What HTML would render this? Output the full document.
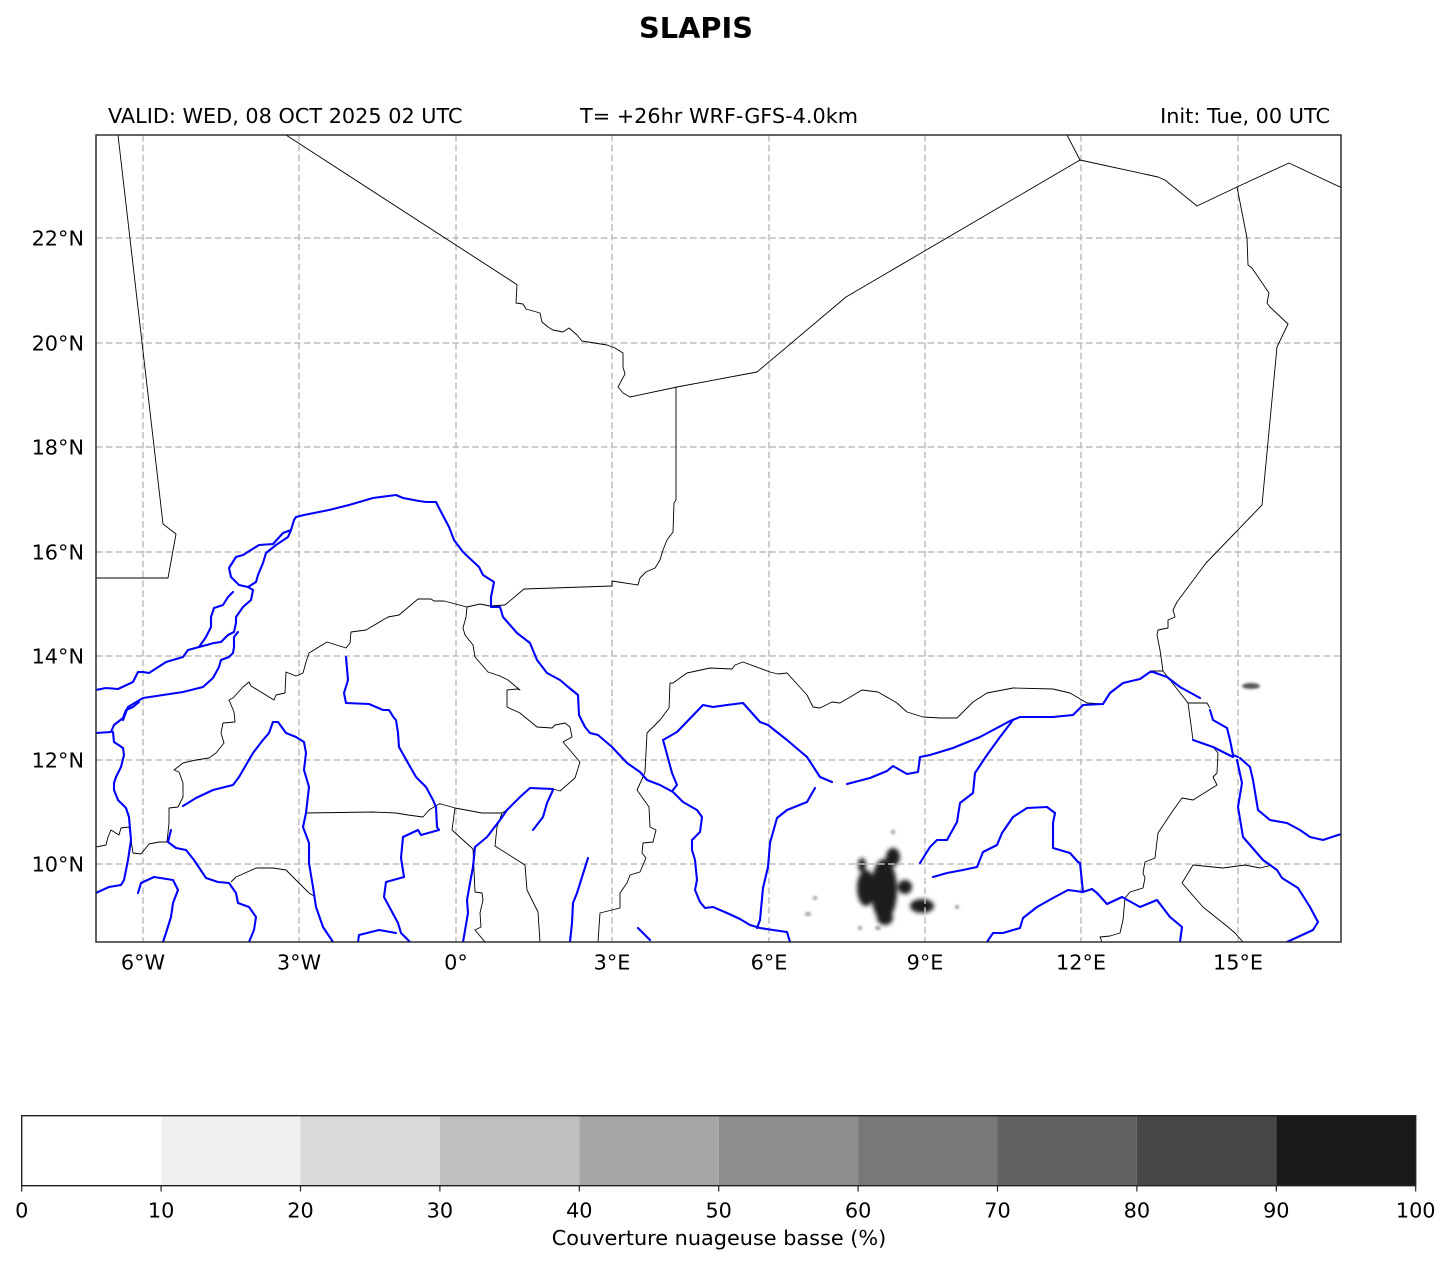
<!DOCTYPE html>
<html>
<head>
<meta charset="utf-8">
<style>
html,body{margin:0;padding:0;background:#fff;}
svg{display:block;}
text{font-family:"DejaVu Sans","Liberation Sans",sans-serif;fill:#000;}
</style>
</head>
<body>
<svg width="1451" height="1264" viewBox="0 0 1451 1264" xmlns="http://www.w3.org/2000/svg">
<defs>
<clipPath id="mapclip"><rect x="96" y="135" width="1245" height="807"/></clipPath>
<filter id="blur" x="-50%" y="-50%" width="200%" height="200%"><feGaussianBlur stdDeviation="2.2"/></filter>
<filter id="blur2" x="-50%" y="-50%" width="200%" height="200%"><feGaussianBlur stdDeviation="1.2"/></filter>
</defs>
<rect width="1451" height="1264" fill="#fff"/>

<!-- Title -->
<text x="696" y="38" font-size="28.8" font-weight="bold" text-anchor="middle">SLAPIS</text>
<text x="108" y="123" font-size="20.8">VALID: WED, 08 OCT 2025 02 UTC</text>
<text x="719" y="123" font-size="20.8" text-anchor="middle">T= +26hr WRF-GFS-4.0km</text>
<text x="1330" y="123" font-size="20.8" text-anchor="end">Init: Tue, 00 UTC</text>

<g clip-path="url(#mapclip)">
<!-- cloud blobs -->
<g filter="url(#blur)" fill="#1a1a1a">
<ellipse cx="884" cy="890" rx="13" ry="31"/>
<ellipse cx="866" cy="888" rx="9" ry="18"/>
<ellipse cx="893" cy="857" rx="7" ry="9"/>
<ellipse cx="905" cy="887" rx="7" ry="7"/>
<ellipse cx="922" cy="906" rx="12" ry="7"/>
<ellipse cx="885" cy="918" rx="8" ry="7"/>
<ellipse cx="862" cy="865" rx="4" ry="7"/>
</g>
<g filter="url(#blur2)" fill="#555">
<ellipse cx="1251" cy="686" rx="9" ry="3"/>
</g>
<g filter="url(#blur2)" fill="#999">
<ellipse cx="808" cy="914" rx="3" ry="2"/>
<ellipse cx="815" cy="898" rx="2" ry="2"/>
<ellipse cx="957" cy="907" rx="2" ry="2"/>
<ellipse cx="893" cy="832" rx="2" ry="2"/>
<ellipse cx="860" cy="928" rx="2" ry="2"/>
<ellipse cx="878" cy="928" rx="3" ry="2"/>
</g>

<!-- gridlines -->
<g stroke="#bdbdbd" stroke-width="1.5" stroke-dasharray="6.6,3.3" fill="none">
<line x1="143" y1="135" x2="143" y2="942"/>
<line x1="299" y1="135" x2="299" y2="942"/>
<line x1="456" y1="135" x2="456" y2="942"/>
<line x1="612" y1="135" x2="612" y2="942"/>
<line x1="769" y1="135" x2="769" y2="942"/>
<line x1="925" y1="135" x2="925" y2="942"/>
<line x1="1081" y1="135" x2="1081" y2="942"/>
<line x1="1238" y1="135" x2="1238" y2="942"/>
<line x1="96" y1="238" x2="1341" y2="238"/>
<line x1="96" y1="343" x2="1341" y2="343"/>
<line x1="96" y1="447" x2="1341" y2="447"/>
<line x1="96" y1="552" x2="1341" y2="552"/>
<line x1="96" y1="656" x2="1341" y2="656"/>
<line x1="96" y1="760" x2="1341" y2="760"/>
<line x1="96" y1="864" x2="1341" y2="864"/>
</g>

<!-- borders -->
<g stroke="#000" stroke-width="0.9" fill="none" stroke-linejoin="round">
<polyline points="118,135 163,524 176,534 168,578 96,578"/>
<polyline points="286,135 516,284 517,285 516,303 523,304 526,309 540,313 542,322 548,327 553,330 558,331 563,332 569,328 577,335 582,341 607,345 615,348 623,353 623,367 625,374 618,387 623,393 630,397 677,387 757,372 846,297 1080,160 1158,177 1165,180 1197,206 1237,187 1289,163 1342,188"/>
<polyline points="1080,160 1067,135"/>
<polyline points="676,387 676,500 674,503 673,532 667,540 663,550 660,560 655,568 646,572 640,578 638,585 612,581 612,586 524,589 505,605"/>
<polyline points="505,605 490,606 480,604 467,607 444,601 434,601 431,599 418,599 399,615 388,617 366,630 351,632 350,643 346,648 327,642 309,653 306,662 303,673 296,676 286,672 285,693 276,695 274,700 251,686 249,682 243,687 233,698 229,700 234,712 235,722 223,723 221,733 224,743 216,753 209,758 196,760 183,763 174,770 179,772 183,783 183,797 178,807 169,808 169,823 167,842 159,842 149,844 141,854 133,853 129,827 121,828 119,835 111,830 108,837 106,845 96,847"/>
<polyline points="467,607 466,617 463,628 465,635 473,645 475,657 488,672 500,676 508,680 520,690 517,689 507,690 507,707 520,713 537,727 552,728 555,725 565,723 570,727 572,737 563,742 580,762 575,778 560,791 553,789 530,788 520,797 507,810 502,813"/>
<polyline points="441,804 455,808 482,813 502,813"/>
<polyline points="455,808 452,830 463,840 473,849 475,892 482,893 483,900 480,913 481,927 475,930 485,942"/>
<polyline points="502,813 497,827 495,846 525,865 527,890 538,912 540,942"/>
<polyline points="306,813 373,812 396,813 408,815 423,817 429,810 434,807 439,804 441,804"/>
<polyline points="231,882 236,877 256,868 273,868 286,870 289,873 296,880 303,887 309,893 314,896"/>
<polyline points="670,683 673,683 687,673 710,668 732,669 735,665 743,662 770,672 778,674 787,673 807,695 813,707 820,708 832,702 840,703 862,690 878,692 897,703 907,712 923,717 940,718 957,718 973,702 987,693 1013,688 1053,689 1070,693 1087,703 1103,704 1110,693 1123,683 1140,679 1150,672"/>
<polyline points="670,683 669,708 660,720 647,733 645,772 643,777 637,790 649,807 650,827 656,830 653,842 643,843 642,853 646,858 640,872 630,875 627,883 620,893 620,908 600,913 598,942"/>
<polyline points="1237,187 1247,238 1248,265 1252,268 1269,293 1267,303 1270,307 1288,324 1277,347 1262,505 1206,563 1177,602 1173,610 1175,617 1168,620 1168,628 1158,630 1157,635 1160,650 1163,671 1150,671"/>
<polyline points="1163,671 1188,703 1207,703 1210,708"/>
<polyline points="1188,703 1193,740 1213,747 1218,753 1217,773 1213,777 1217,785 1193,800 1182,798 1172,812 1158,833 1155,858 1145,862 1143,873 1145,878 1143,888 1130,892 1125,898 1123,920 1120,933 1110,936 1100,937 1102,942"/>
<polyline points="1272,865 1260,868 1245,865 1223,868 1193,865 1182,883 1203,907 1228,927 1235,933 1243,942"/>
</g>

<!-- rivers -->
<g stroke="#0000ff" stroke-width="2.1" fill="none" stroke-linejoin="round" stroke-linecap="round">
<polyline points="96,690 106,688 118,689 133,682 138,672 143,672 149,673 166,662 183,657 188,650 214,643 221,642 228,635 234,632 236,623 236,617 243,607 251,600 253,590 248,587 256,582 258,575 263,563 266,553 276,545 288,537 291,530 294,520 296,517 304,515 329,510 349,505 373,498 396,495 403,498 419,501 426,502 436,502 439,508 449,527 454,540 463,552 479,567 483,575 494,582 491,597 491,607 500,607 503,617 517,633 530,643 537,660 547,673 560,680 567,686 578,695 579,715 585,727 590,733 598,735 612,747 627,763 640,772 647,780 660,785 673,792 683,802 697,810 702,817 700,832 692,840 692,850 695,860 697,880 695,890 700,902 705,908 713,907 727,913 740,919 750,925 760,928 773,930 787,932 790,942"/>
<polyline points="248,587 239,585 231,577 229,568 236,557 243,555 259,545 273,544 283,533 291,530"/>
<polyline points="123,720 128,707 143,698 163,695 183,692 203,687 213,678 219,667 221,660 229,657 233,653 234,647 234,637 238,632"/>
<polyline points="199,647 206,637 211,627 211,617 214,608 223,605 228,597 233,592"/>
<polyline points="96,733 111,732 114,725 123,718 126,710 133,707 139,702"/>
<polyline points="113,732 114,742 123,748 124,755 121,767 116,777 114,783 114,790 118,800 126,808 129,817 131,840 128,860 124,880 121,885 109,887 98,892 96,893"/>
<polyline points="138,893 141,883 154,877 173,880 178,890 173,903 171,917 166,933 163,942"/>
<polyline points="183,806 196,798 213,790 233,785 239,777 253,753 263,740 269,733 273,722 278,722 286,733 296,737 304,742 306,753 304,770 309,787 306,813 303,827 309,843 309,863 313,887 316,907 323,927 333,942"/>
<polyline points="171,830 168,842 176,848 186,850 194,860 206,878 218,882 229,883 236,893 238,903 249,907 256,917 254,930 249,942"/>
<polyline points="346,657 348,680 344,693 346,703 369,704 383,710 389,710 394,718 396,720 398,733 399,747 408,763 416,777 426,787 433,800 436,807 437,827 439,830 421,835 418,830 403,837 401,858 404,877 386,882 384,897 391,910 398,923 401,933 411,943"/>
<polyline points="358,942 359,935 379,930 396,933"/>
<polyline points="553,789 530,788 520,797 507,810 500,820 487,837 475,847 473,867 470,883 467,900 468,913 463,942"/>
<polyline points="553,790 547,803 543,817 533,830"/>
<polyline points="588,858 577,893 573,903 572,923 570,942"/>
<polyline points="638,928 650,940"/>
<polyline points="673,790 677,785 672,773 665,747 663,740 677,732 703,705 713,707 727,705 743,703 760,722 768,725 787,740 807,757 820,777 832,782"/>
<polyline points="815,788 807,802 787,810 777,818 770,843 768,867 763,888 760,920 757,928"/>
<polyline points="847,784 870,778 887,771 893,766 907,774 918,772 920,757 930,755 953,748 980,737 1010,721 1020,717 1053,717 1073,715 1083,705 1103,704 1110,693 1123,683 1140,679 1150,672 1153,672 1167,677 1180,687 1200,698"/>
<polyline points="920,863 930,847 937,840 947,840 957,822 960,803 973,793 975,773 987,755 1000,737 1013,720"/>
<polyline points="933,877 947,873 963,870 977,867 983,852 997,845 1002,833 1013,817 1027,808 1047,807 1055,813 1053,823 1053,848 1070,853 1078,862 1080,863 1083,892"/>
<polyline points="987,942 993,933 1003,933 1020,928 1023,918 1037,907 1053,898 1068,890 1083,892 1092,889 1097,893 1107,904 1122,897 1140,907 1157,900 1170,917 1182,927 1180,942"/>
<polyline points="1210,710 1213,720 1227,728 1230,740 1233,755 1238,757"/>
<polyline points="1193,740 1213,747 1233,757"/>
<polyline points="1237,760 1242,783 1238,807 1243,837 1263,860 1277,870 1282,878 1298,888 1310,907 1318,922 1313,930 1287,942"/>
<polyline points="1240,758 1250,767 1253,780 1258,810 1270,820 1287,823 1300,830 1310,837 1323,840 1338,835 1342,834"/>
</g>
</g>

<!-- map frame -->
<rect x="96" y="135" width="1245" height="807" fill="none" stroke="#222" stroke-width="1.4"/>

<!-- lat labels -->
<g font-size="20.8" text-anchor="end">
<text x="84" y="245.5">22°N</text>
<text x="84" y="350.5">20°N</text>
<text x="84" y="454.5">18°N</text>
<text x="84" y="559.5">16°N</text>
<text x="84" y="663.5">14°N</text>
<text x="84" y="767.5">12°N</text>
<text x="84" y="871.5">10°N</text>
</g>
<!-- lon labels -->
<g font-size="20.8" text-anchor="middle">
<text x="143" y="969.5">6°W</text>
<text x="299" y="969.5">3°W</text>
<text x="456" y="969.5">0°</text>
<text x="612" y="969.5">3°E</text>
<text x="769" y="969.5">6°E</text>
<text x="925" y="969.5">9°E</text>
<text x="1081" y="969.5">12°E</text>
<text x="1238" y="969.5">15°E</text>
</g>

<!-- colorbar -->
<g>
<rect x="21.7" y="1115.7" width="139.4" height="70" fill="#ffffff"/>
<rect x="161.1" y="1115.7" width="139.4" height="70" fill="#f0f0f0"/>
<rect x="300.5" y="1115.7" width="139.4" height="70" fill="#d9d9d9"/>
<rect x="439.9" y="1115.7" width="139.4" height="70" fill="#bfbfbf"/>
<rect x="579.3" y="1115.7" width="139.4" height="70" fill="#a6a6a6"/>
<rect x="718.7" y="1115.7" width="139.4" height="70" fill="#8e8e8e"/>
<rect x="858.1" y="1115.7" width="139.4" height="70" fill="#787878"/>
<rect x="997.5" y="1115.7" width="139.4" height="70" fill="#616161"/>
<rect x="1136.9" y="1115.7" width="139.4" height="70" fill="#474747"/>
<rect x="1276.3" y="1115.7" width="139.4" height="70" fill="#1a1a1a"/>
<rect x="21.7" y="1115.7" width="1394" height="70" fill="none" stroke="#222" stroke-width="1.4"/>
<g stroke="#222" stroke-width="1.2">
<line x1="21.7" y1="1185.7" x2="21.7" y2="1191.5"/>
<line x1="161.1" y1="1185.7" x2="161.1" y2="1191.5"/>
<line x1="300.5" y1="1185.7" x2="300.5" y2="1191.5"/>
<line x1="439.9" y1="1185.7" x2="439.9" y2="1191.5"/>
<line x1="579.3" y1="1185.7" x2="579.3" y2="1191.5"/>
<line x1="718.7" y1="1185.7" x2="718.7" y2="1191.5"/>
<line x1="858.1" y1="1185.7" x2="858.1" y2="1191.5"/>
<line x1="997.5" y1="1185.7" x2="997.5" y2="1191.5"/>
<line x1="1136.9" y1="1185.7" x2="1136.9" y2="1191.5"/>
<line x1="1276.3" y1="1185.7" x2="1276.3" y2="1191.5"/>
<line x1="1415.7" y1="1185.7" x2="1415.7" y2="1191.5"/>
</g>
<g font-size="20.8" text-anchor="middle">
<text x="21.7" y="1217.5">0</text>
<text x="161.1" y="1217.5">10</text>
<text x="300.5" y="1217.5">20</text>
<text x="439.9" y="1217.5">30</text>
<text x="579.3" y="1217.5">40</text>
<text x="718.7" y="1217.5">50</text>
<text x="858.1" y="1217.5">60</text>
<text x="997.5" y="1217.5">70</text>
<text x="1136.9" y="1217.5">80</text>
<text x="1276.3" y="1217.5">90</text>
<text x="1415.7" y="1217.5">100</text>
</g>
<text x="719" y="1245" font-size="20.8" text-anchor="middle">Couverture nuageuse basse (%)</text>
</g>
</svg>
</body>
</html>
